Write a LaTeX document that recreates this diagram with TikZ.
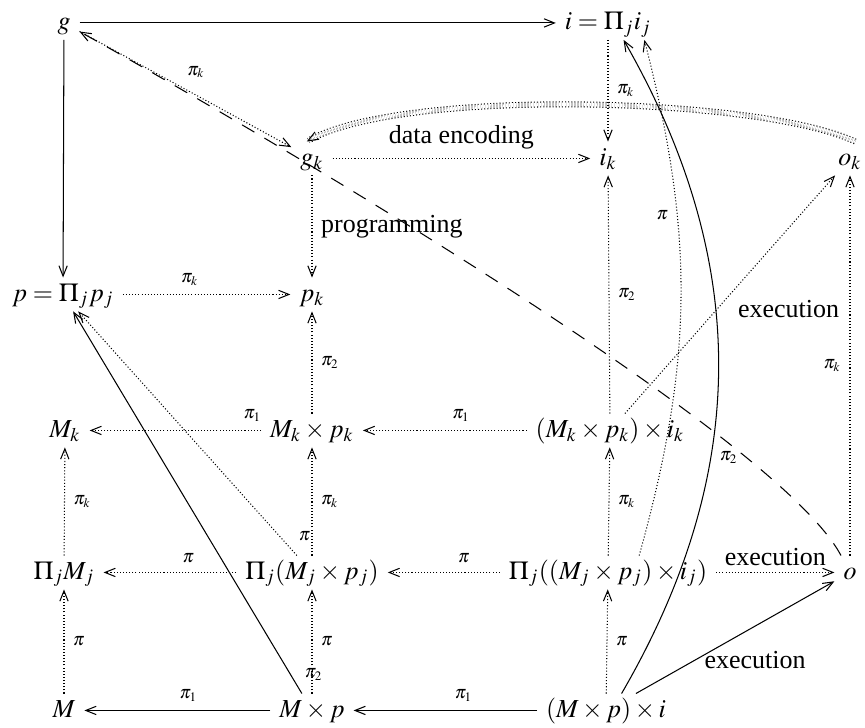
\documentclass[tikz,border=0pt]{standalone}
\usepackage{mathptmx}
\usepackage{fontspec}
\setmainfont{Liberation Serif}
\usetikzlibrary{
arrows.meta
}
\tikzset{
obj/.style={
anchor=base,
inner xsep=3.3pt,
inner ysep=1.5pt,
text height=1.6ex,
text depth=.5ex
},
lbl/.style={
font=\scriptsize
},
arrow/.style={
-{Straight Barb[length=4pt,width=3.2pt]},
thin
},
dotarrow/.style={
arrow,
dash pattern=on .4pt off .8pt
},
dasharrow/.style={
arrow,
dash pattern=on 5.5pt off 4.5pt
}
}

\begin{document}
\begin{tikzpicture}[x=0.385pt,y=-0.385pt]
\useasboundingbox (0,0) rectangle (865,728);
% row 1
\node[obj] (g) at (64,29.5) {$g$};
\node[obj] (i) at (608,29.5) {$i=\Pi_j i_j$};
% row 2
\node[obj] (gk) at (312,165) {$g_k$};
\node[obj] (ik) at (608,165) {$i_k$};
\node[obj] (ok) at (850,165) {$o_k$};
% row 3
\node[obj] (p) at (63,301) {$p=\Pi_j p_j$};
\node[obj] (pk) at (312,301) {$p_k$};
% row 4
\node[obj] (mk) at (65,437) {$M_k$};
\node[obj] (mkpk) at (312,437) {$M_k\times p_k$};
\node[obj] (mkpkik) at (610,437) {$(M_k\times p_k)\times i_k$};
% row 5
\node[obj] (pim) at (64,579) {$\Pi_j M_j$};
\node[obj] (pimp) at (312,579) {$\Pi_j(M_j\times p_j)$};
\node[obj] (pimpi) at (608,579) {$\Pi_j((M_j\times p_j)\times i_j)$};
\node[obj] (o) at (850,579) {$o$};
% row 6
\node[obj] (m) at (64,717) {$M$};
\node[obj] (mp) at (312,717) {$M\times p$};
\node[obj] (mpi) at (606,717) {$(M\times p)\times i$};

\draw[arrow] (g) -- (i);
\draw[arrow] (g) -- (p);
\draw[dotarrow] (g) -- node[lbl, pos=.55, above=3pt] {$\pi_k$} (gk);
\draw[dasharrow] (o) to[out=118, in=-29, looseness=.4] (g);
\draw[dotarrow] (gk) -- node[above] {data encoding} (ik);
\draw[dotarrow] (gk) -- node[right] {programming} (pk);
\draw[dotarrow, double, double distance=1.5pt] ([xshift=2pt]ok.north) to[out=155, in=30, looseness=.5] ([xshift=-2pt]gk.north);
\draw[dotarrow] (i) -- node[lbl, right] {$\pi_k$} (ik);
\draw[dotarrow] (p) -- node[lbl, pos=.4, above] {$\pi_k$} (pk);
% products and projections
\draw[dotarrow] (mkpk) -- node[lbl, right] {$\pi_2$} (pk);
\draw[dotarrow] (mkpk) -- node[lbl, pos=.05, above] {$\pi_1$} (mk);
\draw[dotarrow] (mkpkik) -- node[lbl, pos=.4, above] {$\pi_1$} (mkpk);
\draw[dotarrow] (mkpkik) -- node[lbl, right] {$\pi_2$} (ik);
\draw[dotarrow] (mkpkik) -- node[pos=.44, right=4.4pt] {execution} (ok);
\draw[dotarrow] (o) -- node[lbl, left] {$\pi_k$} (ok);
\draw[dotarrow] ([xshift=12pt]pimpi.north) to[bend right=15] node[lbl, pos=.67, left] {$\pi$} ([xshift=14pt]i.south);
\draw[arrow] ([xshift=6pt]mpi.north) to[bend right=30] node[lbl, pos=.36, right] {$\pi_2$} ([xshift=6pt]i.south);
\draw[dotarrow] (pim) -- node[lbl, right] {$\pi_k$} (mk);
\draw[dotarrow] (pimp) -- node[lbl, right] {$\pi_k$} (mkpk);
\draw[dotarrow] (pimp) -- node[lbl, pos=.08, right=4pt] {$\pi$} (p);
\draw[dotarrow] (pimp) -- node[lbl, pos=.36, above] {$\pi$} (pim);
\draw[dotarrow] (pimpi) -- node[lbl, pos=.32, above] {$\pi$} (pimp);
\draw[dotarrow] (pimpi) -- node[lbl, right] {$\pi_k$} (mkpkik);
\draw[dotarrow] (pimpi) -- node[above=-1pt] {execution} (o);
% bottom row
\draw[dotarrow] (m) -- node[lbl, right] {$\pi$} (pim);
\draw[dotarrow] (mp) -- node[lbl, right] {$\pi$} (pimp);
\draw[arrow] (mp) -- node[lbl, pos=.05, right=2pt] {$\pi_2$} (p);
\draw[arrow] (mp) -- node[lbl, pos=.44, above] {$\pi_1$} (m);
\draw[arrow] (mpi) -- node[lbl, pos=.4, above] {$\pi_1$} (mp);
\draw[dotarrow] (mpi) -- node[lbl, right] {$\pi$} (pimpi);
\draw[arrow] (mpi) -- node[pos=.6, below=6pt] {execution} (o);
\end{tikzpicture}
\end{document}
